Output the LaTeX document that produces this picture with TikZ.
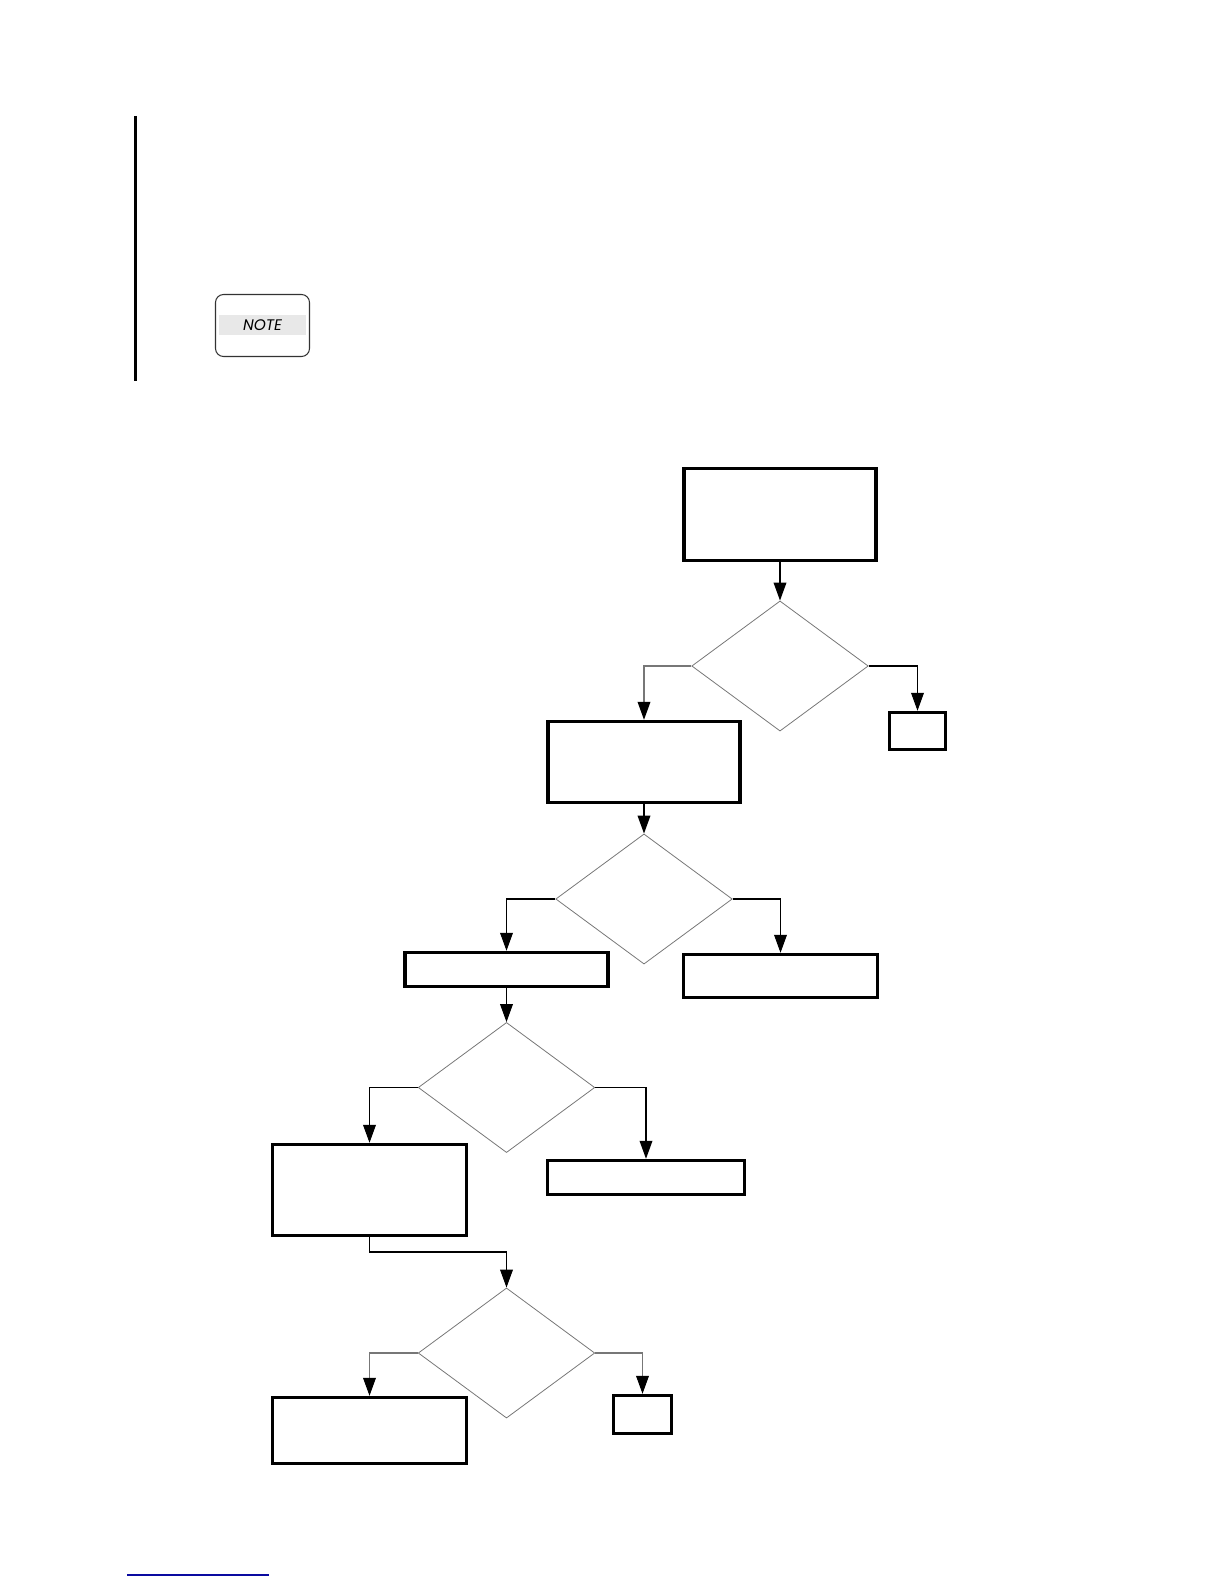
\documentclass[tikz,border=0pt]{standalone}
\usepackage{fontspec}
\usetikzlibrary{arrows.meta, shapes.geometric}
\newfontfamily\notefont{Poppins}
\definecolor{linkBlue}{HTML}{0A0AA0}
\definecolor{bandGray}{HTML}{E8E8E8}
\definecolor{bdr}{HTML}{777777}
\tikzset{
  boxN/.style={draw=black, line width=2.6pt, inner sep=0pt},
  dec/.style={draw=bdr, line width=0.6pt, shape=diamond, shape aspect=1.357, inner sep=0pt,
    minimum width=132.4pt, minimum height=97.6pt},
  flow/.style={draw=black, line width=0.8pt, -{Triangle[color=black, length=13.5pt, width=9.6pt]}},
  flowG/.style={flow, draw=bdr},
}
\begin{document}
\begin{tikzpicture}[x=0.75pt, y=-0.75pt]
\useasboundingbox (0, 0) rectangle (1224, 1584);

% change bar and note mark
\draw[line width=2.6pt] (135.5, 116) -- (135.5, 381);
\node[draw=black!80, line width=0.8pt, rounded corners=6pt, inner sep=0pt,
  minimum width=70.5pt, minimum height=46.5pt] (noteBox) at (262.5, 325.5) {};
\node[fill=bandGray, inner sep=0pt, minimum width=65.25pt, minimum height=15pt,
  font=\notefont\itshape\fontsize{11.5pt}{13pt}\selectfont] (noteBand) at (262.5, 325) {NOTE};

% boxes
\node[boxN, minimum width=144pt, minimum height=69pt] (boxA) at (780, 514.5) {};
\node[boxN, minimum width=144pt, minimum height=60.75pt] (boxB) at (644, 762) {};
\node[boxN, minimum width=42pt, minimum height=27.75pt] (endA) at (917.5, 731) {};
\node[boxN, minimum width=152.25pt, minimum height=25.5pt] (boxC) at (506.5, 969.5) {};
\node[boxN, minimum width=145.5pt, minimum height=32.25pt] (boxD) at (780.5, 976) {};
\node[boxN, minimum width=147.75pt, minimum height=25.5pt] (boxE) at (646, 1177.5) {};
\node[boxN, minimum width=145.5pt, minimum height=68.25pt] (boxF) at (369.5, 1190) {};
\node[boxN, minimum width=145.5pt, minimum height=49.5pt] (boxG) at (369.5, 1430.5) {};
\node[boxN, minimum width=43.5pt, minimum height=28.5pt] (endB) at (642.5, 1414.5) {};

% decisions
\node[dec] (decA) at (780, 666) {};
\node[dec] (decB) at (644, 899) {};
\node[dec] (decC) at (506.5, 1087.5) {};
\node[dec] (decD) at (506.5, 1353) {};
\coordinate (bendF) at (506.5, 1252);

% connectors
\draw[flow] (boxA.south) -- (decA.north);
\draw[flowG] (decA.west) -| (boxB.north);
\draw[flow] (decA.east) -| (endA.north);
\draw[flow] (boxB.south) -- (decB.north);
\draw[flow] (decB.west) -| (boxC.north);
\draw[flow] (decB.east) -| (boxD.north);
\draw[flow] (boxC.south) -- (decC.north);
\draw[flow] (decC.west) -| (boxF.north);
\draw[flow] (decC.east) -| (boxE.north);
\draw[flow] (boxF.south) |- (bendF) -- (decD.north);
\draw[flowG] (decD.west) -| (boxG.north);
\draw[flowG] (decD.east) -| (endB.north);

% link rule at the foot
\draw[linkBlue, line width=0.9pt] (127, 1575) -- (269, 1575);

\end{tikzpicture}
\end{document}
